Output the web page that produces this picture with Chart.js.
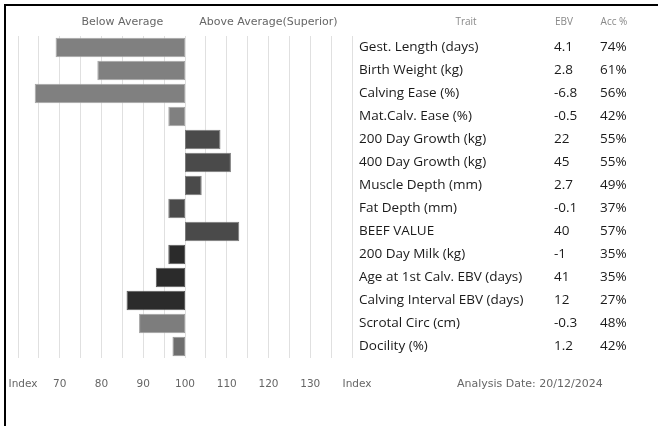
<!DOCTYPE html>
<html><head><meta charset="utf-8">
<script src="https://cdn.jsdelivr.net/npm/chart.js@4"></script>
<style>html,body{margin:0;padding:0;background:#fff;}#wrap{position:relative;width:658px;height:426px;}</style>
</head><body><div id="wrap"><canvas id="c" width="658" height="426"></canvas></div>
<script>
const traits = ['Gest. Length (days)','Birth Weight (kg)','Calving Ease (%)','Mat.Calv. Ease (%)','200 Day Growth (kg)','400 Day Growth (kg)','Muscle Depth (mm)','Fat Depth (mm)','BEEF VALUE','200 Day Milk (kg)','Age at 1st Calv. EBV (days)','Calving Interval EBV (days)','Scrotal Circ (cm)','Docility (%)'];
const ebvValues = ['4.1','2.8','-6.8','-0.5','22','45','2.7','-0.1','40','-1','41','12','-0.3','1.2'];
const accValues = ['74%','61%','56%','42%','55%','55%','49%','37%','57%','35%','35%','27%','48%','42%'];
const indexValues = [69,79,64,96,108.5,111,104,96,113,96,93,86,89,97];
const baseIndex = 100;
const tickLabels = {60:'   Index',70:'70',80:'80',90:'90',100:'100',110:'110',120:'120',130:'130',140:'   Index'};
const barColors = ['#808080','#808080','#808080','#808080','#4a4a4a','#4a4a4a','#4a4a4a','#4a4a4a','#4a4a4a','#2b2b2b','#2b2b2b','#2b2b2b','#7d7d7d','#6e6e6e'];
const barBorders = ['#a6a6a6','#a6a6a6','#a6a6a6','#a6a6a6','#7a7a7a','#7a7a7a','#7a7a7a','#7a7a7a','#7a7a7a','#5a5a5a','#5a5a5a','#5a5a5a','#a0a0a0','#959595'];

const textPlugin = {
  id: 'textPlugin',
  afterDraw(chart) {
    const ctx = chart.ctx, x = chart.scales.x, y = chart.scales.y;
    ctx.save();
    ctx.fillStyle = '#000';
    ctx.fillRect(4, 4, 654, 2);
    ctx.fillRect(4, 4, 2, 422);
    ctx.textBaseline = 'middle';
    ctx.textAlign = 'center';
    ctx.fillStyle = '#666';
    ctx.font = '11px "DejaVu Sans"';
    ctx.fillText('Below Average', x.getPixelForValue(85), 22);
    ctx.fillText('Above Average(Superior)', x.getPixelForValue(120), 22);
    ctx.fillStyle = '#888';
    ctx.font = '10px "Open Sans"';
    ctx.fillText('Trait', 466, 22);
    ctx.fillText('EBV', 564, 22);
    ctx.fillText('Acc %', 614, 22);
    ctx.textAlign = 'left';
    ctx.fillStyle = '#1a1a1a';
    ctx.font = '13.5px "Open Sans"';
    traits.forEach((t, i) => {
      const py = y.getPixelForValue(i);
      ctx.fillText(t, 359, py);
      ctx.fillText(ebvValues[i], 554, py);
      ctx.fillText(accValues[i], 600, py);
    });
    ctx.fillStyle = '#666';
    ctx.font = '11px "DejaVu Sans"';
    ctx.fillText('Analysis Date: 20/12/2024', 457, 384);
    ctx.restore();
  }
};

new Chart(document.getElementById('c'), {
  type: 'bar',
  data: {
    labels: traits,
    datasets: [{
      data: indexValues.map(v => [baseIndex, v]),
      backgroundColor: barColors,
      borderColor: barBorders,
      borderWidth: 1,
      borderSkipped: false,
      barPercentage: 0.85,
      categoryPercentage: 1
    }]
  },
  options: {
    indexAxis: 'y',
    responsive: false,
    animation: false,
    devicePixelRatio: 1,
    layout: { padding: { left: 18, right: 306, top: 36, bottom: 28 } },
    plugins: { legend: { display: false }, tooltip: { enabled: false }, title: { display: false } },
    scales: {
      y: { display: false },
      x: {
        min: 60, max: 140,
        grid: { color: '#e0e0e0', lineWidth: 1, drawTicks: false },
        border: { display: false },
        afterFit: (s) => { s.height = 40; s.paddingLeft = 0; s.paddingRight = 0; },
        ticks: {
          stepSize: 5, autoSkip: false, maxRotation: 0, minRotation: 0, padding: 20,
          color: '#666', font: { family: '"DejaVu Sans"', size: 10.5 },
          callback: (v) => (tickLabels[v] !== undefined ? tickLabels[v] : '')
        }
      }
    }
  },
  plugins: [textPlugin]
});
</script></body></html>
